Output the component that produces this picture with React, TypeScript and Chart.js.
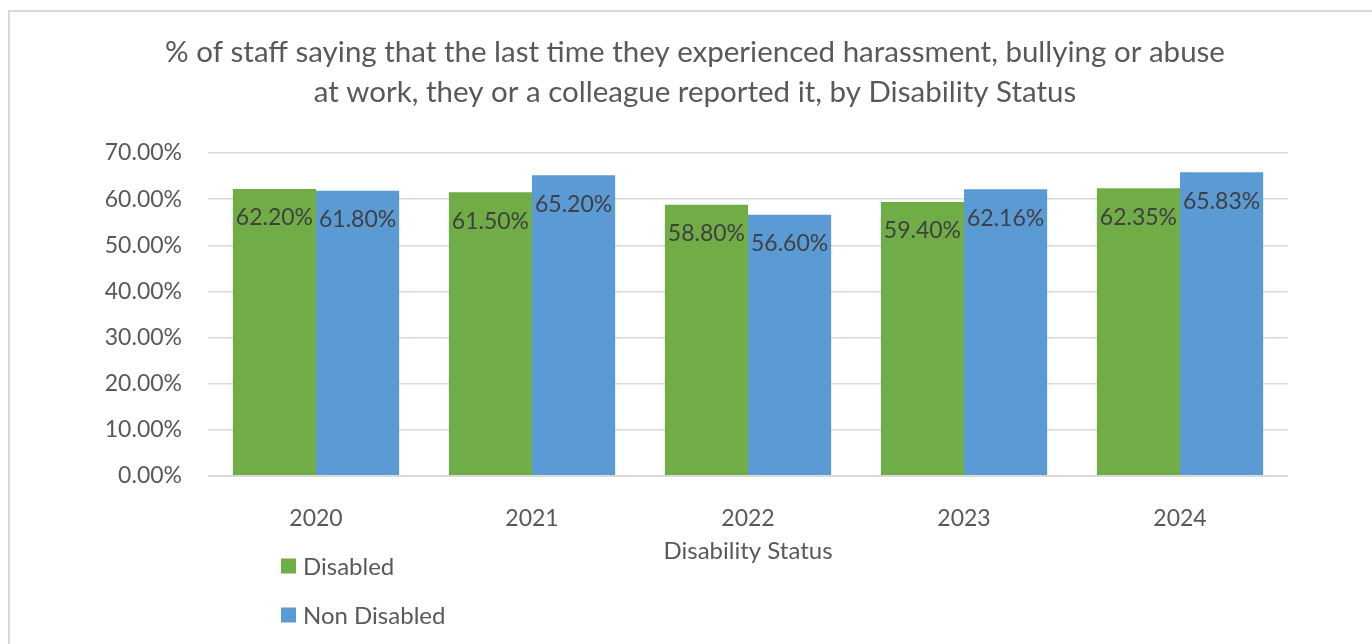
import React, { useEffect, useRef } from 'react';
import { Chart, registerables } from 'chart.js';
Chart.register(...registerables);

const categories = ['2020', '2021', '2022', '2023', '2024'];
const seriesNames = ['Disabled', 'Non Disabled'];
const disabledValues = [62.2, 61.5, 58.8, 59.4, 62.35];
const nonDisabledValues = [61.8, 65.2, 56.6, 62.16, 65.83];
const yMin = 0;
const yMax = 70;
const yStep = 10;
const titleLines = [
  '% of staff saying that the last time they experienced harassment, bullying or abuse',
  'at work, they or a colleague reported it, by Disability Status',
];
const xAxisTitle = 'Disability Status';
const seriesColors = ['#70AD47', '#5B9BD5'];

const FONT = 'Lato, "Open Sans", sans-serif';
const TEXT = '#595959';
const LABEL = '#404040';
const GRID = '#d9d9d9';

const framePlugin = {
  id: 'frame',
  beforeDraw(chart: any) {
    const ctx = chart.ctx;
    ctx.save();
    ctx.fillStyle = '#ffffff';
    ctx.fillRect(0, 0, chart.width, chart.height);
    ctx.strokeStyle = GRID;
    ctx.lineWidth = 2;
    ctx.strokeRect(9, 11, chart.width + 100, chart.height + 100);
    ctx.restore();
  },
};

const dataLabelPlugin = {
  id: 'dataLabels',
  afterDatasetsDraw(chart: any) {
    const ctx = chart.ctx;
    ctx.save();
    ctx.font = `23px ${FONT}`;
    ctx.fillStyle = LABEL;
    ctx.textAlign = 'center';
    ctx.textBaseline = 'middle';
    chart.data.datasets.forEach((ds: any, di: number) => {
      const meta = chart.getDatasetMeta(di);
      meta.data.forEach((bar: any, i: number) => {
        const v = ds.data[i] as number;
        ctx.fillText(v.toFixed(2) + '%', bar.x, bar.y + 29);
      });
    });
    ctx.restore();
  },
};

const legendPlugin = {
  id: 'customLegend',
  afterDraw(chart: any) {
    const ctx = chart.ctx;
    ctx.save();
    ctx.font = `24px ${FONT}`;
    ctx.textAlign = 'left';
    ctx.textBaseline = 'middle';
    const ys = [566, 615];
    chart.data.datasets.forEach((ds: any, i: number) => {
      const y = ys[i];
      ctx.fillStyle = ds.backgroundColor;
      ctx.fillRect(281, y - 7.5, 15, 15);
      ctx.fillStyle = TEXT;
      ctx.fillText(ds.label, 303, y + 1);
    });
    ctx.restore();
  },
};

export default function App() {
  const ref = useRef<HTMLCanvasElement>(null);
  useEffect(() => {
    if (!ref.current) return;
    const chart = new Chart(ref.current, {
      type: 'bar',
      data: {
        labels: categories,
        datasets: [
          { label: seriesNames[0], data: disabledValues, backgroundColor: seriesColors[0] },
          { label: seriesNames[1], data: nonDisabledValues, backgroundColor: seriesColors[1] },
        ],
      },
      options: {
        responsive: false,
        animation: false,
        devicePixelRatio: 1,
        layout: { padding: { left: 102, right: 84, top: 0, bottom: 0 } },
        datasets: {
          bar: { categoryPercentage: 0.77, barPercentage: 1.0 },
        } as any,
        plugins: {
          legend: { display: false },
          tooltip: { enabled: false },
          title: {
            display: true,
            text: titleLines,
            color: TEXT,
            font: { family: FONT, size: 29.5, weight: 'normal', lineHeight: 40 / 29.5 },
            padding: { top: 32, bottom: 41 },
          },
        },
        scales: {
          x: {
            grid: { display: false },
            border: { display: false },
            ticks: { color: TEXT, font: { family: FONT, size: 23 }, padding: 21 },
            title: {
              display: true,
              text: xAxisTitle,
              color: TEXT,
              font: { family: FONT, size: 24 },
              padding: { top: 0, bottom: 644 - 551 - 14.4 },
            },
            afterFit(scale: any) {
              scale.height = 644 - 476;
            },
          },
          y: {
            min: yMin,
            max: yMax,
            border: { display: false },
            grid: {
              color: GRID,
              lineWidth: (c: any) => (c.tick && c.tick.value === 0 ? 2 : 1.5),
              drawTicks: false,
            },
            ticks: {
              stepSize: yStep,
              color: TEXT,
              font: { family: FONT, size: 23 },
              padding: 26,
              callback: (v: any) => Number(v).toFixed(2) + '%',
            },
            afterFit(scale: any) {
              scale.width = 208 - 102;
            },
          },
        },
      },
      plugins: [framePlugin, dataLabelPlugin, legendPlugin],
    });
    return () => chart.destroy();
  }, []);
  return (
    <div style={{ position: 'fixed', left: 0, top: 0, width: 1372, height: 644 }}>
      <canvas ref={ref} width={1372} height={644} style={{ display: 'block' }} />
    </div>
  );
}
